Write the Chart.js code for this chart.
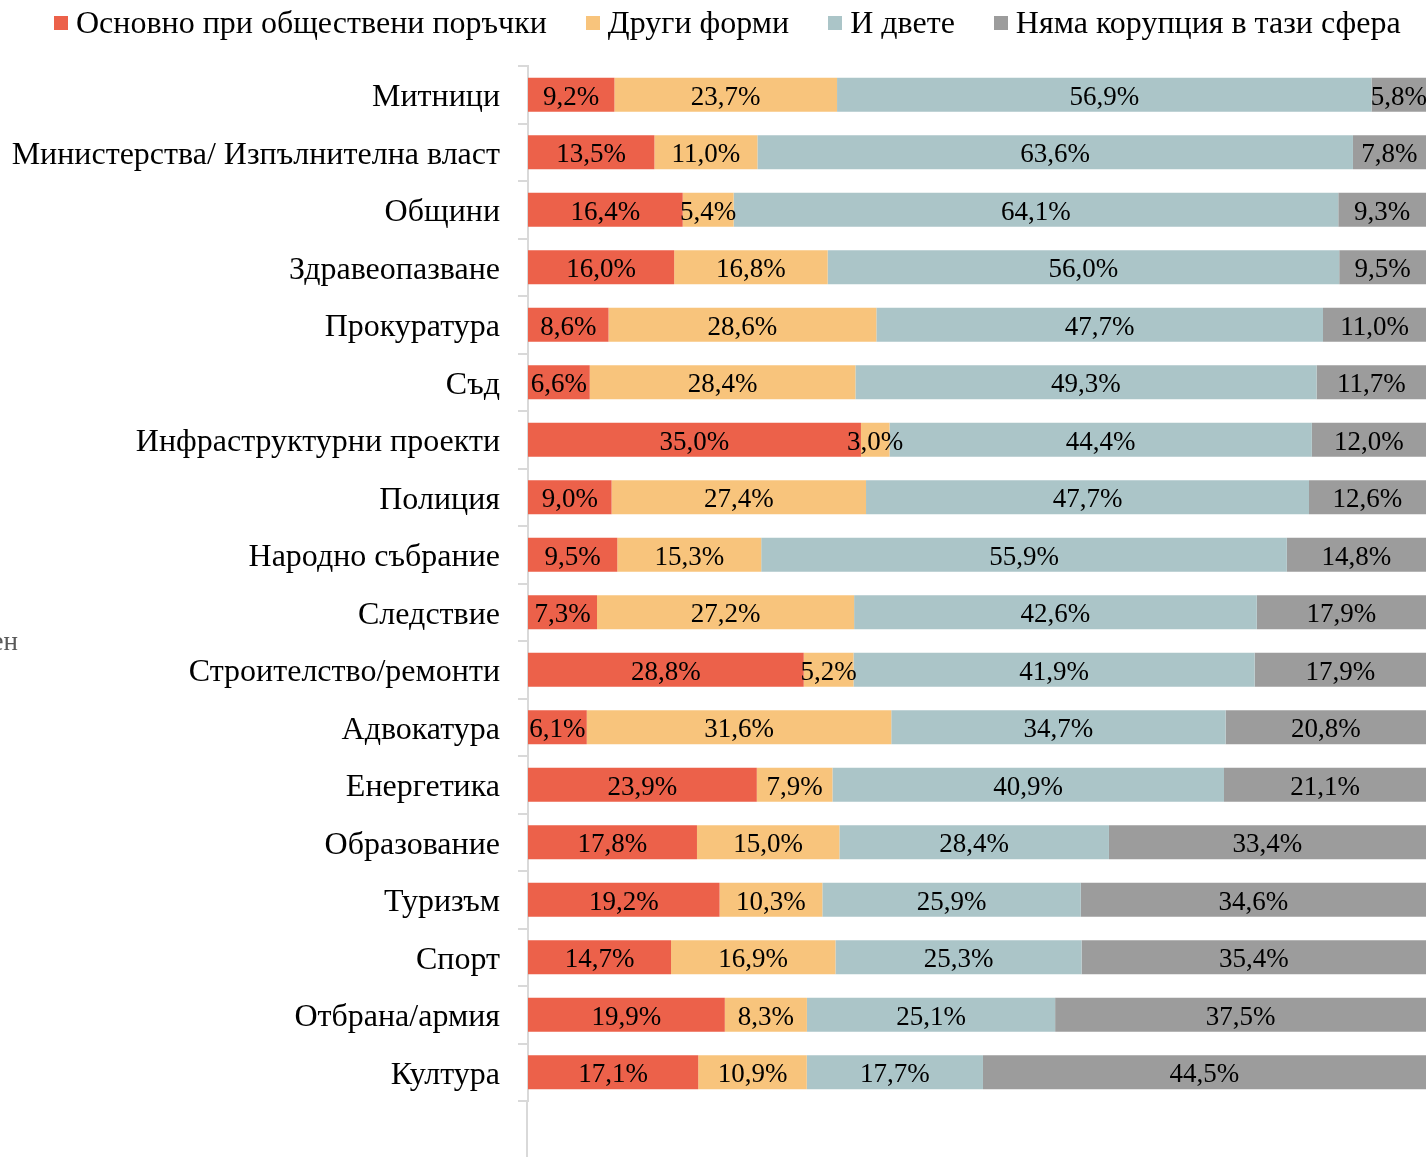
<!DOCTYPE html>
<html>
<head>
<meta charset="utf-8">
<script src="https://cdn.jsdelivr.net/npm/chart.js@4.4.1/dist/chart.umd.min.js"></script>
<style>
  html, body { margin: 0; padding: 0; background: #fff; }
  #wrap { position: relative; width: 1426px; height: 1157px; overflow: hidden; }
  #legend {
    position: absolute; left: 54px; top: 4px;
    display: flex; align-items: center;
    font-family: "Liberation Serif", "Times New Roman", serif; font-size: 32px; color: #000;
    white-space: nowrap;
  }
  #legend .item { display: flex; align-items: center; margin-right: 39px; }
  #legend .box { width: 14px; height: 14px; margin-right: 8px; }
</style>
</head>
<body>
<div id="wrap">
  <canvas id="corruptionChart" width="1426" height="1157"></canvas>
  <div id="legend"></div>
</div>
<script>
// Categories (top to bottom)
const categories = [
    'Митници',
    'Министерства/ Изпълнителна власт',
    'Общини',
    'Здравеопазване',
    'Прокуратура',
    'Съд',
    'Инфраструктурни проекти',
    'Полиция',
    'Народно събрание',
    'Следствие',
    'Строителство/ремонти',
    'Адвокатура',
    'Енергетика',
    'Образование',
    'Туризъм',
    'Спорт',
    'Отбрана/армия',
    'Култура'
];

const seriesNames = ['Основно при обществени поръчки', 'Други форми', 'И двете', 'Няма корупция в тази сфера'];
const seriesColors = ['#ec614a', '#f8c47c', '#abc5c8', '#9c9c9c'];

// Values in percent, as printed on the bars
const publicProcurement = [9.2, 13.5, 16.4, 16.0, 8.6, 6.6, 35.0, 9.0, 9.5, 7.3, 28.8, 6.1, 23.9, 17.8, 19.2, 14.7, 19.9, 17.1];
const otherForms        = [23.7, 11.0, 5.4, 16.8, 28.6, 28.4, 3.0, 27.4, 15.3, 27.2, 5.2, 31.6, 7.9, 15.0, 10.3, 16.9, 8.3, 10.9];
const both              = [56.9, 63.6, 64.1, 56.0, 47.7, 49.3, 44.4, 47.7, 55.9, 42.6, 41.9, 34.7, 40.9, 28.4, 25.9, 25.3, 25.1, 17.7];
const noCorruption      = [5.8, 7.8, 9.3, 9.5, 11.0, 11.7, 12.0, 12.6, 14.8, 17.9, 17.9, 20.8, 21.1, 33.4, 34.6, 35.4, 37.5, 44.5];

const rawSeries = [publicProcurement, otherForms, both, noCorruption];

// The original is a 100% stacked bar, so each row is scaled to its own total
const totals = categories.map((_, i) => rawSeries.reduce((sum, s) => sum + s[i], 0));

const serif = '"Liberation Serif", "Times New Roman", serif';

// HTML legend
const legendEl = document.getElementById('legend');
seriesNames.forEach((name, i) => {
    const item = document.createElement('div');
    item.className = 'item';
    const box = document.createElement('span');
    box.className = 'box';
    box.style.background = seriesColors[i];
    const txt = document.createElement('span');
    txt.textContent = name;
    item.appendChild(box);
    item.appendChild(txt);
    legendEl.appendChild(item);
});

function formatValue(v) {
    return v.toFixed(1).replace('.', ',') + '%';
}

// Draws the value labels in the middle of every segment
const valueLabels = {
    id: 'valueLabels',
    afterDatasetsDraw(chart) {
        const ctx = chart.ctx;
        ctx.save();
        ctx.font = '27px ' + serif;
        ctx.fillStyle = '#000';
        ctx.textAlign = 'center';
        ctx.textBaseline = 'middle';
        chart.data.datasets.forEach((ds, di) => {
            const meta = chart.getDatasetMeta(di);
            meta.data.forEach((bar, i) => {
                const x = (bar.x + bar.base) / 2;
                ctx.fillText(formatValue(ds.rawValues[i]), x, bar.y + 3);
            });
        });
        ctx.restore();
    }
};

// Axis line runs on below the last category, plus a cut-off text at the left
const axisExtras = {
    id: 'axisExtras',
    afterDraw(chart) {
        const ctx = chart.ctx;
        const area = chart.chartArea;
        ctx.save();
        ctx.strokeStyle = '#d9d9d9';
        ctx.lineWidth = 2;
        ctx.beginPath();
        ctx.moveTo(area.left - 1, area.bottom);
        ctx.lineTo(area.left - 1, chart.height);
        ctx.stroke();
        ctx.font = '27px ' + serif;
        ctx.fillStyle = '#595959';
        ctx.textAlign = 'right';
        ctx.textBaseline = 'alphabetic';
        ctx.fillText('ен', 18, 650);
        ctx.restore();
    }
};

const ctx = document.getElementById('corruptionChart').getContext('2d');
const corruptionChart = new Chart(ctx, {
    type: 'bar',
    data: {
        labels: categories,
        datasets: rawSeries.map((values, si) => ({
            label: seriesNames[si],
            data: values.map((v, i) => v / totals[i] * 100),
            rawValues: values,
            backgroundColor: seriesColors[si],
            borderWidth: 0,
            barPercentage: 0.59,
            categoryPercentage: 1.0
        }))
    },
    options: {
        indexAxis: 'y',
        responsive: false,
        animation: false,
        layout: { padding: { top: 66, bottom: 56, left: 0, right: 0 } },
        plugins: {
            legend: { display: false },
            tooltip: { enabled: false }
        },
        scales: {
            x: {
                stacked: true,
                min: 0,
                max: 100,
                display: false
            },
            y: {
                stacked: true,
                afterFit(scale) { scale.width = 528; },
                grid: {
                    drawOnChartArea: false,
                    color: '#d9d9d9',
                    lineWidth: 2,
                    tickLength: 10
                },
                border: { display: true, color: '#d9d9d9', width: 2 },
                ticks: {
                    color: '#000',
                    padding: 18,
                    labelOffset: 3,
                    font: { family: serif, size: 32 }
                }
            }
        }
    },
    plugins: [valueLabels, axisExtras]
});
</script>
</body>
</html>
